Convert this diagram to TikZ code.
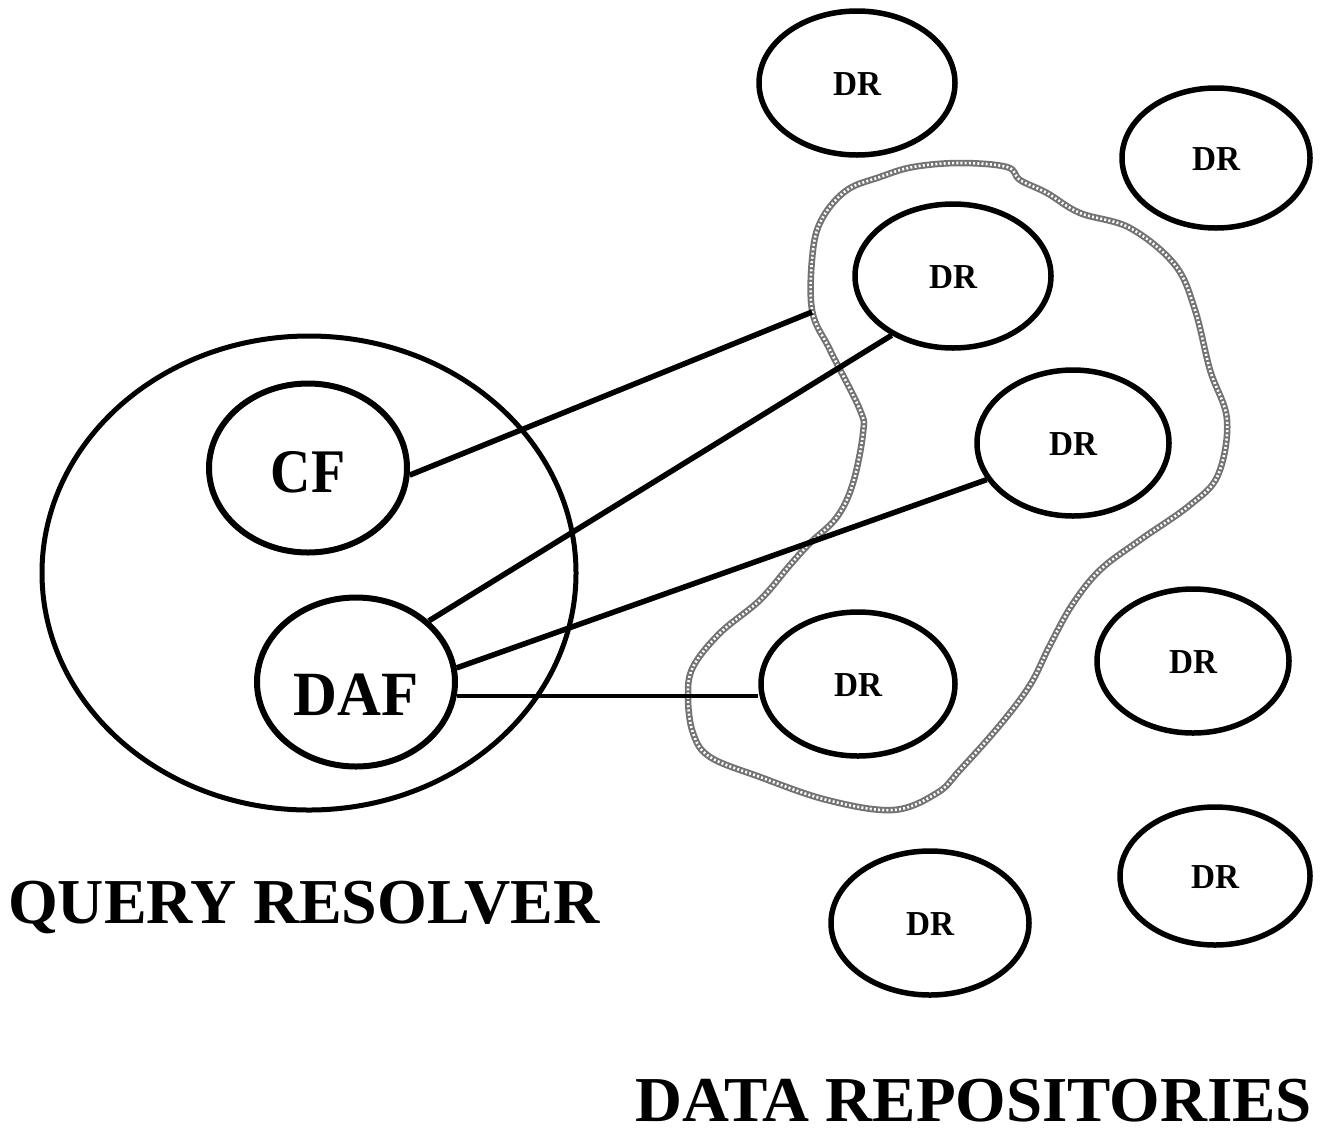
\documentclass[tikz,border=0pt]{standalone}
\usepackage{fontspec}
\setmainfont{Liberation Serif}
\usetikzlibrary{shapes.geometric}
\newcommand{\cnd}[2]{\scalebox{#1}[1]{#2}}
\tikzset{
  blob/.style={draw=black, line width=5.5pt, ellipse, inner sep=0pt, fill=none},
  drbox/.style={blob, minimum width=196pt, minimum height=144pt, text height=24pt, text depth=0pt, font=\fontsize{35}{40}\selectfont\bfseries},
  link/.style={draw=black, line width=5.5pt},
  thinlink/.style={draw=black, line width=3.5pt},
  chain/.style={draw=black!55, line width=6.5pt, postaction={draw=white, line width=2.6pt, dash pattern=on 2pt off 2.2pt}},
  title/.style={anchor=base west, inner sep=0pt, font=\fontsize{64}{70}\selectfont\bfseries}
}
\begin{document}
\begin{tikzpicture}[x=1pt,y=-1pt]
\useasboundingbox (0,0) rectangle (1324,1128);
% boundary of the group
\draw[chain] plot[smooth cycle, tension=0.6] coordinates {
 (812,310) (813,250) (823,217) (847,190) (880,177) (913,167) (960,163) (1007,167)
 (1020,180) (1047,193) (1080,213) (1130,228) (1175,265) (1195,310) (1210,370)
 (1227,420) (1218,475) (1190,505) (1140,540) (1100,570) (1072,605) (1050,645)
 (1030,685) (1000,725) (960,770) (937,793) (893,810) (827,800) (760,777) (710,757)
 (693,733) (688,697) (693,667) (720,633) (760,600) (790,565) (810,543) (837,517)
 (853,483) (863,433) (860,410) (830,350)};
\coordinate (b1) at (812,312);
% query resolver
\node[blob, line width=5pt, minimum width=534pt, minimum height=474pt] (qr) at (309,573) {};
\node[blob, line width=6pt, minimum width=198pt, minimum height=169pt, text height=49pt, text depth=0pt, font=\fontsize{62}{70}\selectfont\bfseries] (cf) at (308,468) {\cnd{0.9}{CF}};
\node[blob, line width=6pt, minimum width=198pt, minimum height=169pt, text height=66pt, text depth=0pt, font=\fontsize{63}{70}\selectfont\bfseries] (daf) at (356,682) {\cnd{0.965}{DAF}};
% data repositories
\node[drbox] (dr1) at (857,83) {\cnd{0.95}{DR}};
\node[drbox, minimum width=188pt, minimum height=140pt] (dr2) at (1216,158) {\cnd{0.95}{DR}};
\node[drbox] (dr3) at (953,276) {\cnd{0.95}{DR}};
\node[drbox, minimum width=192pt, minimum height=146pt] (dr4) at (1073,443) {\cnd{0.95}{DR}};
\node[drbox, minimum width=194pt, minimum height=144pt] (dr5) at (858,684) {\cnd{0.95}{DR}};
\node[drbox, minimum width=192pt, minimum height=144pt] (dr6) at (1193,661) {\cnd{0.95}{DR}};
\node[drbox, minimum width=190pt, minimum height=138pt] (dr7) at (1215,876) {\cnd{0.95}{DR}};
\node[drbox, minimum width=198pt, minimum height=144pt] (dr8) at (930,923) {\cnd{0.95}{DR}};
% connectors
\draw[link] (cf.-4) -- (b1);
\draw[link] (daf.40) -- (dr3.224);
\draw[link] (daf.8) -- (dr4.203);
\draw[thinlink] (daf.-8) -- (daf.-8 -| dr5.west);
% titles
\node[title] (t1) at (8,923) {QUERY RESOLVER};
\node[title] (t2) at (635,1121) {\cnd{1.015}{DATA REPOSITORIES}};
\end{tikzpicture}
\end{document}
